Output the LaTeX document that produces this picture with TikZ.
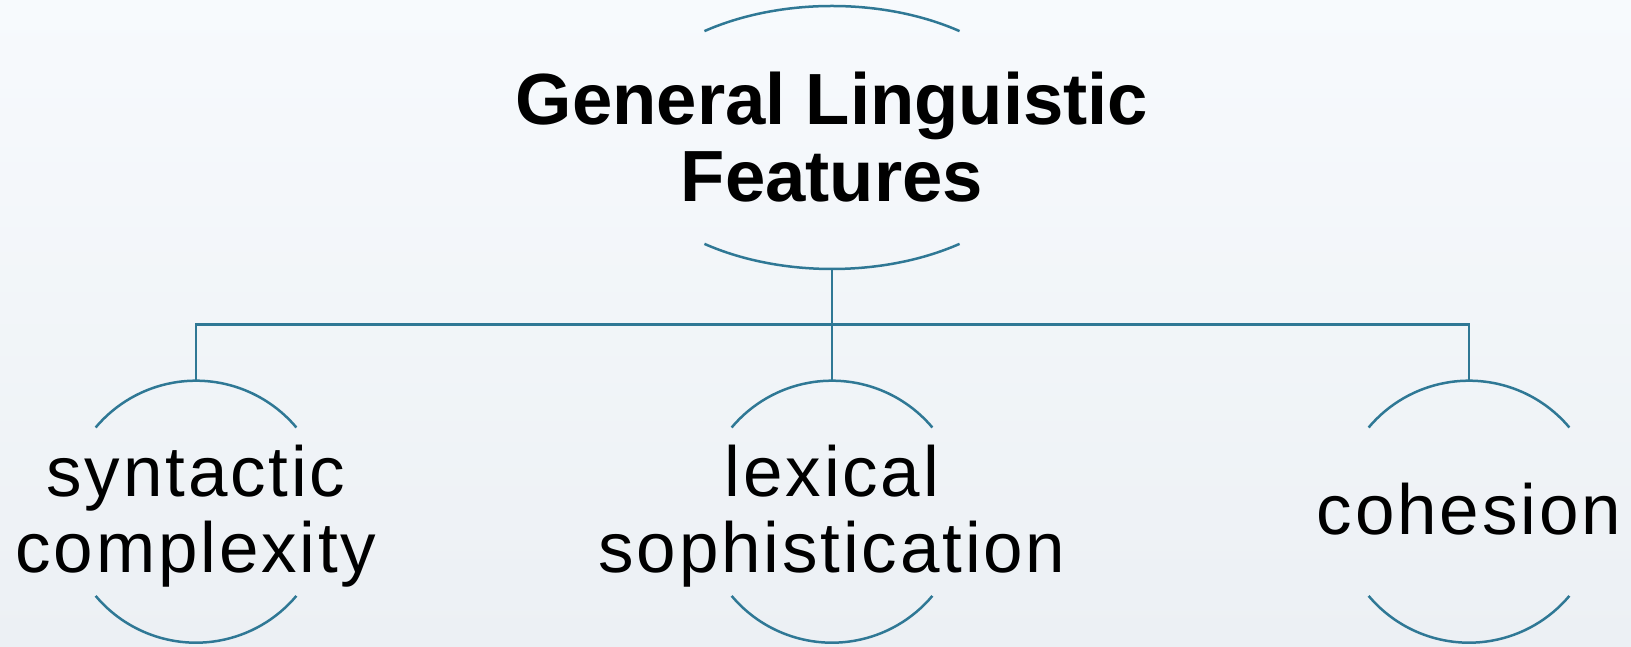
\documentclass[tikz,border=0pt]{standalone}
\usepackage{fontspec}
\setmainfont{Liberation Sans}
\newfontfamily\bodyfont[LetterSpace=4]{Liberation Sans}
\usetikzlibrary{shapes.geometric}

\definecolor{accent}{HTML}{2F7895}
\definecolor{bgtop}{HTML}{F7FAFD}
\definecolor{bgmid}{HTML}{F3F7FA}
\definecolor{bgbot}{HTML}{ECF0F4}

\tikzset{
  conn/.style={draw=accent, line width=2.5pt},
  rim/.style={draw=accent, line width=2.5pt},
  holder/.style={circle, draw=none, minimum size=262pt, inner sep=0pt},
  bigholder/.style={ellipse, draw=none, minimum width=434pt, minimum height=263pt, inner sep=0pt},
  lbl/.style={anchor=base, inner sep=0pt, font=\bodyfont\fontsize{71}{76}\selectfont},
  ttl/.style={anchor=base, inner sep=0pt, font=\bfseries\fontsize{72.5}{77}\selectfont},
}

\begin{document}
\begin{tikzpicture}[x=1pt, y=1pt]
  % background
  \shade[top color=bgtop, middle color=bgmid, bottom color=bgbot] (0,0) rectangle (1631,647);
  \useasboundingbox (0,0) rectangle (1631,647);

  % shape holders
  \node[bigholder] (gen) at (832,509.5) {};
  \node[holder] (syn) at (196,135.3) {};
  \node[holder] (lex) at (832,135.3) {};
  \node[holder] (coh) at (1469,135.3) {};

  % arcs of the top ellipse
  \draw[rim] (gen.center) ++(54:217pt and 131.5pt)
    arc[start angle=54, end angle=126, x radius=217pt, y radius=131.5pt];
  \draw[rim] (gen.center) ++(234:217pt and 131.5pt)
    arc[start angle=234, end angle=306, x radius=217pt, y radius=131.5pt];

  % arcs of the three circles
  \foreach \c in {syn,lex,coh}{
    \draw[rim] (\c.center) ++(40:131pt) arc[start angle=40, end angle=140, radius=131pt];
    \draw[rim] (\c.center) ++(220:131pt) arc[start angle=220, end angle=320, radius=131pt];
  }

  % texts
  \node[ttl] (t1) at ([yshift=12.5pt]gen.center) {General Linguistic};
  \node[ttl] (t2) at ([yshift=-64.2pt]gen.center) {Features};
  \node[lbl] (s1) at ([yshift=14.7pt]syn.center) {syntactic};
  \node[lbl] (s2) at ([yshift=-61.3pt]syn.center) {complexity};
  \node[lbl] (l1) at ([yshift=14.7pt]lex.center) {lexical};
  \node[lbl] (l2) at ([yshift=-61.3pt]lex.center) {sophistication};
  \node[lbl] (c1) at ([yshift=-23.3pt]coh.center) {cohesion};

  % connectors
  \coordinate (junc) at (832,322.5);
  \draw[conn] (gen.south) -- (junc);
  \draw[conn] (syn.north) |- (junc) -| (coh.north);
  \draw[conn] (junc) -- (lex.north);
\end{tikzpicture}
\end{document}
